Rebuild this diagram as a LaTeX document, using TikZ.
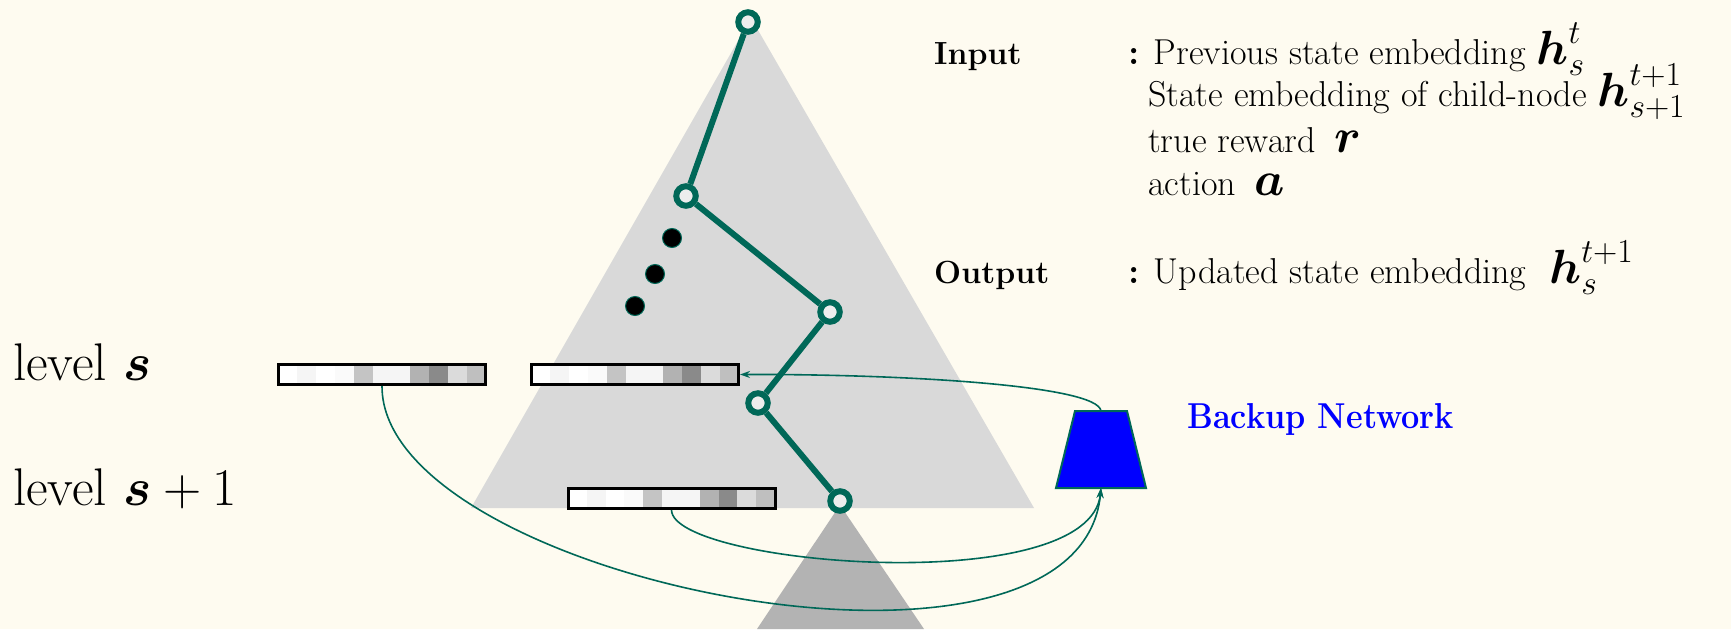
\RequirePackage{fix-cm}
\documentclass[tikz,border=0pt]{standalone}
\usepackage{graphicx}
\usetikzlibrary{arrows.meta}
\definecolor{bgc}{RGB}{254,251,240}
\definecolor{tealc}{RGB}{0,104,88}
\definecolor{lgray}{RGB}{217,217,217}
\definecolor{dgray}{RGB}{179,179,179}
\definecolor{bnblue}{RGB}{0,0,255}
\tikzset{
 treenode/.style={circle, draw=tealc, line width=6pt, fill=black!7, minimum size=19.5pt, inner sep=0pt},
 dotnode/.style={circle, draw=tealc, line width=1pt, fill=black, minimum size=19pt, inner sep=0pt},
 treeedge/.style={draw=tealc, line width=6pt},
 bar/.style={draw=black, line width=3pt, minimum width=207pt, minimum height=20pt, inner sep=0pt},
 conn/.style={draw=tealc, line width=1.6pt, -{Stealth[length=10pt,width=7pt]}},
 txt/.style={anchor=base west, inner sep=0pt, font=\fontsize{36}{43}\selectfont},
 lbl/.style={anchor=base west, inner sep=0pt, font=\fontsize{32}{38}\selectfont\bfseries},
 lvl/.style={anchor=base west, inner sep=0pt, font=\fontsize{53}{64}\selectfont},
 netframe/.style={minimum width=90pt, minimum height=77pt, inner sep=0pt, outer sep=0pt},
 netfill/.style={draw=tealc, fill=bnblue, line width=2pt, line join=miter},
}
\newcommand{\bgmath}[1]{{\fontsize{48}{58}\selectfont$#1$}}
\newcommand{\bl}[1]{\mbox{\boldmath$#1$}}
\newcommand{\embcells}[2]{%
  \foreach \c [count=\i from 0] in {0,4,0,2,23,4,4,30,46,14,25}
    \fill[black!\c] ({#1+\i*207/11},{#2-10}) rectangle ++(207/11,20);
}
\begin{document}
\begin{tikzpicture}[x=1pt,y=-1pt]
\useasboundingbox (0,0) rectangle (1731,629);
\fill[bgc] (0,0) rectangle (1731,629);
% triangles
\fill[lgray] (751,18) -- (1034,508) -- (471,508) -- cycle;
\fill[dgray] (840,505) -- (924,629) -- (757,629) -- cycle;
% embedding bars
\embcells{278.5}{374.5}
\node[bar] (barA) at (382,374.5) {};
\embcells{531.5}{374.5}
\node[bar] (barB) at (635,374.5) {};
\embcells{568}{498.5}
\node[bar] (barC) at (671.5,498.5) {};
% tree path
\node[treenode] (n1) at (748,22) {};
\node[treenode] (n2) at (686,196) {};
\node[treenode] (n3) at (830,312) {};
\node[treenode] (n4) at (758,403) {};
\node[treenode] (n5) at (840,501) {};
\draw[treeedge] (n1) -- (n2);
\draw[treeedge] (n2) -- (n3);
\draw[treeedge] (n3) -- (n4);
\draw[treeedge] (n4) -- (n5);
\node[dotnode] (d1) at (672,238) {};
\node[dotnode] (d2) at (655,274) {};
\node[dotnode] (d3) at (635,306) {};
% backup network
\node[netframe] (bn) at (1101,449.5) {};
\path[netfill] (bn.south west) -- (bn.south east) -- ([xshift=-19pt]bn.north east) -- ([xshift=19pt]bn.north west) -- cycle;
\node[anchor=base west, inner sep=0pt, text=bnblue, font=\fontsize{36}{43}\selectfont\bfseries] (bnl) at (1187,428) {\scalebox{0.9}[1]{Backup Network}};
% connectors
\draw[conn] (bn.north) .. controls (1098,385) and (900,374) .. (barB.east);
\draw[conn] (barA.south) .. controls (381,580) and (1080,720) .. (bn.south);
\draw[conn] (barC.south) .. controls (672,565) and (1090,600) .. (bn.south);
% level labels
\node[lvl] (lvs) at (13,380) {level $\bl{s}$};
\node[lvl] (lvs1) at (13,505) {level $\bl{s}+1$};
% input / output text
\node[lbl] (inp) at (934,64) {Input};
\node[txt] (l1) at (1128,64) {\textbf{:} Previous state embedding \bgmath{\bl{h}_s^t}};
\node[txt] (l2) at (1148,106) {State embedding of child-node \bgmath{\bl{h}_{s+1}^{t+1}}};
\node[txt] (l3) at (1148,152) {true reward\hspace{8pt} \bgmath{\bl{r}}};
\node[txt] (l4) at (1148,195) {action\hspace{8pt} \bgmath{\bl{a}}};
\node[lbl] (outp) at (934,283) {Output};
\node[txt] (l5) at (1128,283) {\textbf{:} Updated state embedding\hspace{12pt} \bgmath{\bl{h}_s^{t+1}}};
\end{tikzpicture}
\end{document}
